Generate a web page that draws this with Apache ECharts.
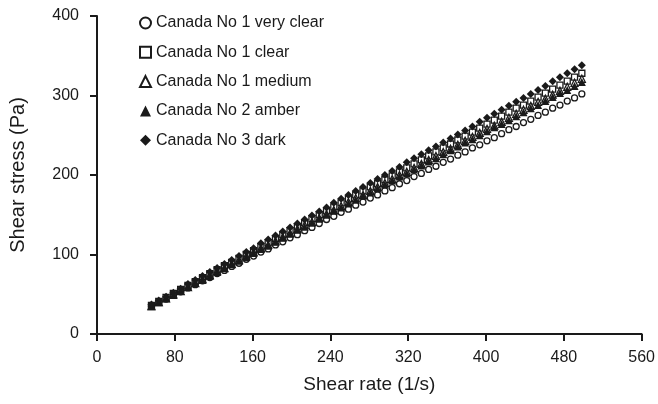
<!DOCTYPE html>
<html>
<head>
<meta charset="utf-8">
<script src="https://cdn.jsdelivr.net/npm/echarts@6/dist/echarts.min.js"></script>
<style>
  html, body { margin: 0; padding: 0; background: #fff; }
  #chart { width: 658px; height: 404px; }
</style>
</head>
<body>
<div id="chart"></div>
<script>
// shear rate (1/s)
const shearRate = [56, 63.5, 71, 78.5, 86, 93.5, 101, 108.5, 116, 123.5, 131, 138.5, 146, 153.5, 161, 168.5,
  176, 183.5, 191, 198.5, 206, 213.5, 221, 228.5, 236, 243.5, 251, 258.5, 266, 273.5, 281, 288.5, 296,
  303.5, 311, 318.5, 326, 333.5, 341, 348.5, 356, 363.5, 371, 378.5, 386, 393.5, 401, 408.5, 416, 423.5,
  431, 438.5, 446, 453.5, 461, 468.5, 476, 483.5, 491, 498.5];

// shear stress (Pa)
const veryClear = [35, 40, 44, 49, 53, 58, 62, 67, 71, 76, 80, 85, 89, 94, 98, 103, 107, 112, 116, 121, 125,
  130, 134, 139, 144, 148, 153, 157, 162, 166, 171, 175, 180, 184, 189, 193, 198, 202, 207, 211, 216, 220,
  225, 229, 234, 238, 243, 247, 252, 257, 261, 266, 270, 275, 279, 284, 288, 293, 297, 302];
const clear = [36, 41, 46, 51, 56, 61, 66, 71, 76, 81, 86, 90, 95, 100, 105, 110, 115, 120, 125, 130, 135,
  140, 145, 150, 155, 160, 165, 170, 175, 180, 185, 189, 194, 199, 204, 209, 214, 219, 224, 229, 234, 239,
  244, 249, 254, 259, 264, 269, 274, 279, 284, 288, 293, 298, 303, 308, 313, 318, 323, 328];
const medium = [35, 40, 45, 50, 54, 59, 64, 69, 74, 79, 83, 88, 93, 98, 103, 108, 112, 117, 122, 127, 132,
  137, 141, 146, 151, 156, 161, 166, 171, 175, 180, 185, 190, 195, 200, 204, 209, 214, 219, 224, 229, 233,
  238, 243, 248, 253, 258, 262, 267, 272, 277, 282, 287, 292, 296, 301, 306, 311, 316, 321];
const amber = [35, 40, 45, 49, 54, 59, 64, 68, 73, 78, 83, 88, 92, 97, 102, 107, 111, 116, 121, 126, 131,
  135, 140, 145, 150, 155, 159, 164, 169, 174, 178, 183, 188, 193, 198, 202, 207, 212, 217, 221, 226, 231,
  236, 241, 245, 250, 255, 260, 264, 269, 274, 279, 284, 288, 293, 298, 303, 307, 312, 317];
const dark = [37, 42, 47, 52, 57, 63, 68, 73, 78, 83, 88, 93, 98, 103, 108, 114, 119, 124, 129, 134, 139,
  144, 149, 154, 159, 165, 170, 175, 180, 185, 190, 195, 200, 205, 210, 216, 221, 226, 231, 236, 241, 246,
  251, 256, 261, 267, 272, 277, 282, 287, 292, 297, 302, 307, 312, 318, 323, 328, 333, 338];

const seriesNames = ['Canada No 1 very clear', 'Canada No 1 clear', 'Canada No 1 medium', 'Canada No 2 amber', 'Canada No 3 dark'];
const seriesValues = [veryClear, clear, medium, amber, dark];
const symbols = ['circle', 'rect', 'triangle', 'triangle', 'diamond'];
const filled = [false, false, false, true, true];
const symbolSizes = [6, 6, 7, 8, 8];

const fontFamily = 'Liberation Sans, Arial, sans-serif';
const ink = '#1a1a1a';

const chart = echarts.init(document.getElementById('chart'));

const axisCommon = {
  axisLine: { show: true, onZero: false, lineStyle: { color: ink, width: 2 } },
  axisTick: { show: true, inside: false, length: 7, lineStyle: { color: ink, width: 2 } },
  splitLine: { show: false },
};

chart.setOption({
  backgroundColor: '#fff',
  animation: false,
  grid: { left: 97, right: 16, top: 16, bottom: 70 },
  legend: {
    orient: 'vertical',
    left: 134,
    top: 10,
    itemWidth: 11,
    itemHeight: 11,
    itemGap: 13.3,
    textStyle: { fontFamily, fontSize: 16, color: ink, lineHeight: 14 },
    data: seriesNames.map((name, i) => ({ name, icon: symbols[i] })),
  },
  xAxis: {
    ...axisCommon,
    type: 'value',
    min: 0,
    max: 560,
    interval: 80,
    name: 'Shear rate (1/s)',
    nameLocation: 'middle',
    nameGap: 41,
    nameTextStyle: { fontFamily, fontSize: 19, color: ink },
    axisLabel: { fontFamily, fontSize: 16, color: ink, margin: 16 },
  },
  yAxis: {
    ...axisCommon,
    type: 'value',
    min: 0,
    max: 400,
    interval: 100,
    name: 'Shear stress (Pa)',
    nameLocation: 'middle',
    nameGap: 69,
    nameTextStyle: { fontFamily, fontSize: 20, color: ink },
    axisLabel: { fontFamily, fontSize: 16, color: ink, margin: 18 },
  },
  series: seriesNames.map((name, i) => ({
    name,
    type: 'scatter',
    symbol: symbols[i],
    symbolSize: symbolSizes[i],
    data: shearRate.map((x, j) => [x, seriesValues[i][j]]),
    itemStyle: {
      color: filled[i] ? ink : '#fff',
      borderColor: ink,
      borderWidth: filled[i] ? 0 : 1.3,
      opacity: 1,
    },
  })),
});
</script>
</body>
</html>
